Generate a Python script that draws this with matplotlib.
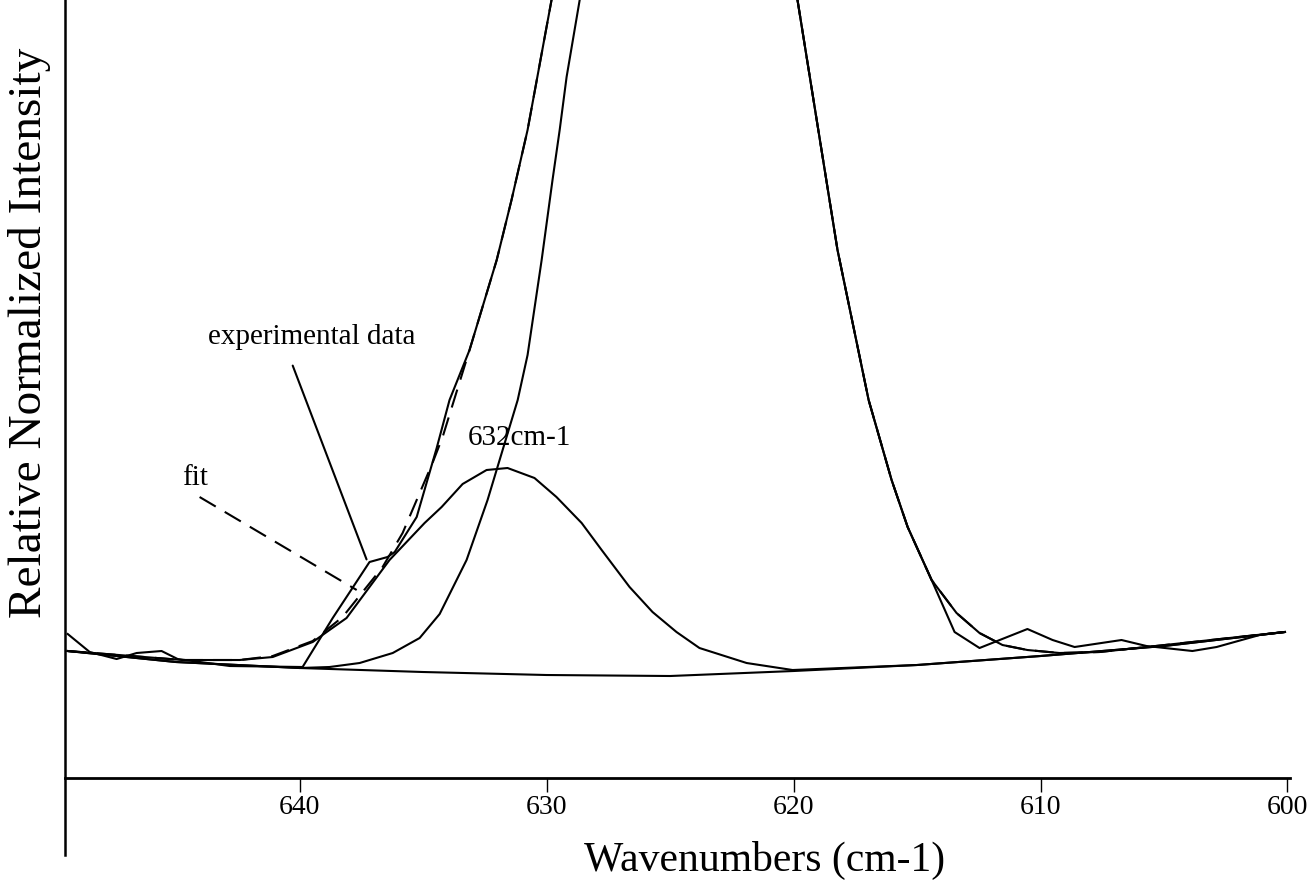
import matplotlib.pyplot as plt

plt.rcParams['font.family'] = ['Liberation Serif', 'DejaVu Serif']

# wavenumber (cm-1) / relative intensity (arbitrary units)
base_wn = [649.4, 645.0, 640.0, 635.0, 630.0, 625.0, 620.0, 615.0, 610.0, 605.0, 600.1]
base_i = [127, 116, 110, 106, 103, 102, 107, 113, 122, 132, 146]

exp_wn = [649.39, 648.50, 647.41, 646.60, 645.59, 644.94, 642.83, 639.88, 638.66, 637.17,
          636.44, 636.15, 635.26, 634.45, 633.93, 633.12, 632.02, 631.42, 630.77, 629.80,
          624.5, 619.84, 618.22, 616.96, 616.03, 615.38, 614.41, 613.48, 612.47, 610.53,
          609.51, 608.62, 606.72, 605.71, 603.85, 602.87, 601.13, 600.12]
exp_i = [144, 126, 119, 125, 127, 119, 112, 111, 160, 216,
         221, 226, 261, 330, 378, 428, 518, 578, 648, 778,
         1500, 778, 528, 378, 298, 251, 198, 146, 130, 149,
         138, 131, 138, 132, 127, 131, 143, 146]

fit_wn = [649.39, 644.74, 642.43, 641.09, 639.47, 638.26, 636.64, 635.83, 634.62, 634.21,
          633.12, 632.02, 631.42, 630.77, 629.80, 624.5, 619.84, 618.22, 616.96, 616.03,
          615.38, 614.41, 613.40, 612.47, 611.54, 610.53, 609.23, 607.61, 605.71, 600.12]
fit_i = [127, 118, 118, 122, 137, 161, 211, 245, 315, 341,
         428, 518, 578, 648, 778, 1500, 778, 528, 378, 298,
         251, 198, 165, 145, 133, 128, 125, 126, 131, 146]

main_wn = [649.39, 645.02, 640.0, 638.79, 637.57, 636.23, 635.14, 634.33, 633.24, 632.39,
           631.78, 631.17, 630.77, 630.20, 629.76, 629.47, 629.19, 628.66, 624.5, 619.84,
           618.22, 616.96, 616.03, 615.38, 614.41, 613.40, 612.47, 611.54, 610.53, 609.23,
           607.61, 605.71, 600.12]
main_i = [127, 116, 110, 111, 115, 125, 140, 164, 218, 278,
          328, 378, 423, 518, 598, 648, 701, 778, 1500, 778,
          528, 378, 298, 251, 198, 165, 145, 133, 128, 125,
          126, 131, 146]

p632_wn = [649.39, 644.74, 642.43, 641.09, 639.47, 638.79, 638.10, 636.36, 634.94, 634.25,
           633.40, 632.43, 631.58, 630.49, 629.60, 628.58, 627.77, 626.64, 625.71, 624.74,
           623.81, 621.90, 620.04, 615.0, 610.0, 605.0, 600.1]
p632_i = [127, 118, 118, 121, 136, 148, 160, 218, 255, 271,
          294, 308, 310, 300, 281, 255, 228, 191, 166, 146,
          130, 115, 108, 113, 122, 132, 146]

fig = plt.figure(figsize=(13.08, 8.82), dpi=100)
ax = fig.add_axes([0.0497, 0.0306, 0.9365, 0.9694])

lw = 1.5
ax.plot(base_wn, base_i, color='black', lw=lw)
ax.plot(p632_wn, p632_i, color='black', lw=lw)
ax.plot(main_wn, main_i, color='black', lw=lw)
ax.plot(exp_wn, exp_i, color='black', lw=lw)
ax.plot(fit_wn, fit_i, color='black', lw=lw, linestyle=(0, (9, 5)))

ax.set_xlim(649.5, 599.9)
ax.set_ylim(-77, 778)

ax.spines['top'].set_visible(False)
ax.spines['right'].set_visible(False)
ax.spines['bottom'].set_position(('data', 0))
ax.spines['bottom'].set_linewidth(2.0)
ax.spines['left'].set_linewidth(1.8)

ax.set_xticks([640, 630, 620, 610, 600])
ax.set_yticks([])
ax.tick_params(axis='x', direction='out', length=10, width=1.0, pad=2, labelsize=20)

# annotations
ax.text(639.51, 441, 'experimental data', fontsize=21, ha='center', va='center')
ax.annotate('', xy=(637.25, 216), xytext=(640.32, 415),
            arrowprops=dict(arrowstyle='-', lw=lw, color='black'))
ax.text(644.25, 300, 'fit', fontsize=21, ha='center', va='center')
ax.plot([644.05, 637.69], [281, 188], color='black', lw=lw, linestyle=(0, (9, 5)))
ax.text(631.09, 340, '632cm-1', fontsize=21, ha='center', va='center')

fig.text(765 / 1308, 1 - 860 / 882, 'Wavenumbers (cm-1)', fontsize=30,
         ha='center', va='center')
fig.text(30 / 1308, 1 - 333 / 882, 'Relative Normalized Intensity', fontsize=34,
         rotation=90, ha='center', va='center')

fig.savefig('out.png', dpi=100)
